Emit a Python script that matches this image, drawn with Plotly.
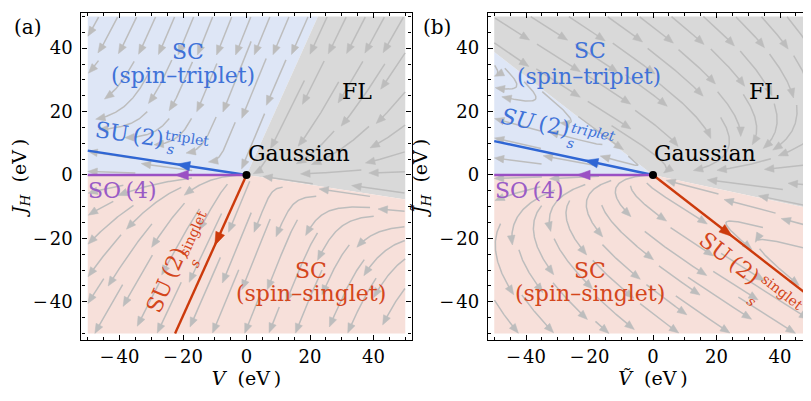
import math
import numpy as np
import plotly.graph_objects as go

# ------------------------------------------------------------------ data
V_RANGE = [-52, 52]
J_RANGE = [-52, 51.1]
TICK_VALS = [-40, -20, 0, 20, 40]
TICK_TEXT = ["\u2212\u200a40", "\u2212\u200a20", "0", "20", "40"]

# ---- panel (a)
A_TRIPLET_V = [0, -50, -50, 22.5]
A_TRIPLET_J = [0, 0, 50, 50]
A_FL_V = [0, 22.5, 50, 50]
A_FL_J = [0, 50, 50, -7.7]
A_SINGLET_V = [0, 50, 50, -50, -50]
A_SINGLET_J = [0, -7.7, -50, -50, 0]
A_TRIP_LINE_V = [0, -50]
A_TRIP_LINE_J = [0, 7.7]
A_SO4_LINE_V = [0, -50]
A_SO4_LINE_J = [0, 0]
A_SING_LINE_V = [0, -22.5]
A_SING_LINE_J = [0, -50]
A_ARROW_TIP_V = [-22.0, -22.5, -10.0]      # triplet, SO(4), singlet arrow tips
A_BETA = [-1.0, -1.1, 2.6]                # a1, a2, k of the quadratic flow

# ---- panel (b)
B_TRIPLET_V = [0, -50, -50]
B_TRIPLET_J = [0, 0, 38.8]
B_FL_V = [0, -50, -50, 50, 50]
B_FL_J = [0, 38.8, 50, 50, -10.7]
B_SINGLET_V = [0, 50, 50, -50, -50]
B_SINGLET_J = [0, -10.7, -50, -50, 0]
B_TRIP_LINE_V = [0, -50]
B_TRIP_LINE_J = [0, 10.7]
B_SO4_LINE_V = [0, -50]
B_SO4_LINE_J = [0, 0]
B_SING_LINE_V = [0, 50]
B_SING_LINE_J = [0, -38.8]
B_ARROW_TIP_V = [-21.5, -24.0, 25.0]
B_BETA = [-1.0, 0.74, -3.4]

# ------------------------------------------------------------------ colours
C_BLUE_FILL = "#dee6f6"
C_GRAY_FILL = "#d9d9d9"
C_RED_FILL = "#f7e0da"
C_STREAM = "#bdbdbd"
C_BLUE = "#2f66d4"
C_PURPLE = "#9a50c4"
C_RED = "#cc3a0c"
C_BLUE_TXT = "#3f72d8"
C_RED_TXT = "#d4461c"
C_PURPLE_TXT = "#9a5bc6"
FONT = "DejaVu Serif"


def coeffs(beta, m2, m3):
    a1, a2, k = beta
    return (a1, a2, -k, 0.0, a1 + k * m2 * m3, a2 - k * (m2 + m3))


def unit_dir(x, y, c):
    a1, a2, a3, b1, b2, b3 = c
    f = a1 * x * x + a2 * x * y + a3 * y * y
    g = b1 * x * x + b2 * x * y + b3 * y * y
    n = math.hypot(f, g)
    if n < 1e-12:
        return None
    return f / n, g / n


def streamlines(c, dsep=5.6, dtest=2.4, step=0.3, half=12.0, lim=50.0):
    grid = {}

    def near(x, y, d):
        cx, cy = int(math.floor(x / dsep)), int(math.floor(y / dsep))
        for i in (cx - 1, cx, cx + 1):
            for j in (cy - 1, cy, cy + 1):
                for (px, py) in grid.get((i, j), ()):
                    if (px - x) ** 2 + (py - y) ** 2 < d * d:
                        return True
        return False

    def trace(x, y, sgn):
        pts = []
        L = 0.0
        while L < half:
            d1 = unit_dir(x, y, c)
            if d1 is None:
                break
            mx, my = x + sgn * d1[0] * step / 2, y + sgn * d1[1] * step / 2
            d2 = unit_dir(mx, my, c)
            if d2 is None:
                break
            nx, ny = x + sgn * d2[0] * step, y + sgn * d2[1] * step
            if abs(nx) > lim or abs(ny) > lim or math.hypot(nx, ny) < 2.0:
                break
            if near(nx, ny, dtest):
                break
            x, y = nx, ny
            pts.append((x, y))
            L += step
        return pts

    lines = []
    seeds = np.arange(-49.0, 49.1, 2.0)
    for sy in seeds[::-1]:
        for sx in seeds:
            if math.hypot(sx, sy) < 3 or near(sx, sy, dsep):
                continue
            fw = trace(sx, sy, 1)
            bw = trace(sx, sy, -1)
            pts = bw[::-1] + [(sx, sy)] + fw
            if len(pts) < 14 or len(fw) < 4:
                continue
            lines.append(pts)
            for (px, py) in pts:
                key = (int(math.floor(px / dsep)), int(math.floor(py / dsep)))
                grid.setdefault(key, []).append((px, py))
    return lines


def arrow_tri(tx, ty, ux, uy, length, width):
    n = math.hypot(ux, uy)
    ux, uy = ux / n, uy / n
    bx, by = tx - ux * length, ty - uy * length
    px, py = -uy * width / 2, ux * width / 2
    return [tx, bx + px, bx - px, tx], [ty, by + py, by - py, ty]


fig = go.Figure()


def add_panel(xr, yr, regions, lines_def, tips, beta):
    for (vx, vy, col) in regions:
        fig.add_trace(go.Scatter(x=vx + [vx[0]], y=vy + [vy[0]], fill="toself", fillcolor=col,
                                 mode="none", xaxis=xr, yaxis=yr, hoverinfo="skip", showlegend=False))
    trip, so4, sing = lines_def
    m2 = trip[1][1] / trip[0][1]
    m3 = sing[1][1] / sing[0][1]
    c = coeffs(beta, m2, m3)
    sl = streamlines(c)
    lx, ly, ax_, ay_ = [], [], [], []
    for pts in sl:
        xs = [p[0] for p in pts]
        ys = [p[1] for p in pts]
        (x1, y1), (x0, y0) = pts[-1], pts[-3]
        tx, ty = arrow_tri(x1, y1, x1 - x0, y1 - y0, 3.0, 2.4)
        lx += xs[:-4] + [None]
        ly += ys[:-4] + [None]
        ax_ += tx + [None]
        ay_ += ty + [None]
    fig.add_trace(go.Scatter(x=lx, y=ly, mode="lines", line=dict(color=C_STREAM, width=1.5),
                             xaxis=xr, yaxis=yr, hoverinfo="skip", showlegend=False))
    fig.add_trace(go.Scatter(x=ax_, y=ay_, mode="lines", fill="toself", fillcolor=C_STREAM,
                             line=dict(color=C_STREAM, width=0.5),
                             xaxis=xr, yaxis=yr, hoverinfo="skip", showlegend=False))
    for (ln, col), tip in zip(((trip, C_BLUE), (so4, C_PURPLE), (sing, C_RED)), tips):
        fig.add_trace(go.Scatter(x=ln[0], y=ln[1], mode="lines", line=dict(color=col, width=2.4),
                                 xaxis=xr, yaxis=yr, hoverinfo="skip", showlegend=False))
        slope = ln[1][1] / ln[0][1]
        tx, ty = tip, slope * tip
        ax2, ay2 = arrow_tri(tx, ty, ln[0][1], ln[1][1], 4.2, 3.0)
        fig.add_trace(go.Scatter(x=ax2, y=ay2, mode="lines", fill="toself", fillcolor=col,
                                 line=dict(color=col, width=0.5),
                                 xaxis=xr, yaxis=yr, hoverinfo="skip", showlegend=False))
    fig.add_trace(go.Scatter(x=[0], y=[0], mode="markers", marker=dict(color="black", size=8),
                             xaxis=xr, yaxis=yr, hoverinfo="skip", showlegend=False))


add_panel("x", "y",
          [(A_TRIPLET_V, A_TRIPLET_J, C_BLUE_FILL), (A_FL_V, A_FL_J, C_GRAY_FILL),
           (A_SINGLET_V, A_SINGLET_J, C_RED_FILL)],
          ((A_TRIP_LINE_V, A_TRIP_LINE_J), (A_SO4_LINE_V, A_SO4_LINE_J), (A_SING_LINE_V, A_SING_LINE_J)),
          A_ARROW_TIP_V, A_BETA)
add_panel("x2", "y2",
          [(B_TRIPLET_V, B_TRIPLET_J, C_BLUE_FILL), (B_FL_V, B_FL_J, C_GRAY_FILL),
           (B_SINGLET_V, B_SINGLET_J, C_RED_FILL)],
          ((B_TRIP_LINE_V, B_TRIP_LINE_J), (B_SO4_LINE_V, B_SO4_LINE_J), (B_SING_LINE_V, B_SING_LINE_J)),
          B_ARROW_TIP_V, B_BETA)

# ------------------------------------------------------------------ labels
anns = []
LBL = 22
SUP = 14


def ann(text, x, y, ref, size, color, angle=0):
    anns.append(dict(text=text, x=x, y=y, xref="x" + ref, yref="y" + ref, showarrow=False,
                     font=dict(size=size, color=color, family=FONT), textangle=angle,
                     xanchor="center", yanchor="middle"))


# panel (a)
ann("SC", -18.4, 39.0, "", LBL, C_BLUE_TXT)
ann("(spin\u2013triplet)", -20.0, 31.3, "", LBL, C_BLUE_TXT)
ann("FL", 34.8, 26.2, "", LBL, "black")
ann("Gaussian", 16.6, 6.9, "", LBL, "black")
ann("SO\u2009(4)", -38.9, -5.0, "", LBL, C_PURPLE_TXT)
ann("SC", 20.3, -30.1, "", LBL, C_RED_TXT)
ann("(spin\u2013singlet)", 20.2, -37.5, "", LBL, C_RED_TXT)
ann("SU\u2009(2)", -36.9, 12.9, "", LBL, C_BLUE_TXT, 8.6)
ann("triplet", -18.5, 11.7, "", SUP, C_BLUE_TXT, 8.6)
ann("<i>s</i>", -24.0, 8.2, "", SUP, C_BLUE_TXT, 8.6)
ann("SU\u2009(2)", -25.3, -33.2, "", LBL, C_RED_TXT, -66)
ann("singlet", -17.0, -18.6, "", SUP, C_RED_TXT, -66)
ann("<i>s</i>", -16.3, -27.8, "", SUP, C_RED_TXT, -66)

# panel (b)
ann("SC", -19.7, 39.4, "2", LBL, C_BLUE_TXT)
ann("(spin\u2013triplet)", -20.2, 31.2, "2", LBL, C_BLUE_TXT)
ann("FL", 35.1, 26.2, "2", LBL, "black")
ann("Gaussian", 16.4, 6.9, "2", LBL, "black")
ann("SO\u2009(4)", -38.8, -5.0, "2", LBL, C_PURPLE_TXT)
ann("SC", -19.7, -30.1, "2", LBL, C_RED_TXT)
ann("(spin\u2013singlet)", -19.7, -37.5, "2", LBL, C_RED_TXT)
ann("<i>SU</i>\u2009(2)", -37.0, 16.7, "2", LBL, C_BLUE_TXT, 11.6)
ann("<i>triplet</i>", -18.7, 13.6, "2", SUP, C_BLUE_TXT, 11.6)
ann("<i>s</i>", -26.0, 10.1, "2", SUP, C_BLUE_TXT, 11.6)
ann("SU\u2009(2)", 24.2, -26.2, "2", LBL, C_RED_TXT, 38)
ann("singlet", 40.7, -37.0, "2", SUP, C_RED_TXT, 38)
ann("<i>s</i>", 30.9, -39.8, "2", SUP, C_RED_TXT, 38)

# panel tags
anns.append(dict(text="(a)", x=20 / 811, y=1 - 19 / 401, xref="paper", yref="paper", showarrow=False,
                 font=dict(size=20, family=FONT, color="black"), xanchor="center", yanchor="middle"))
anns.append(dict(text="(b)", x=429 / 811, y=1 - 19 / 401, xref="paper", yref="paper", showarrow=False,
                 font=dict(size=20, family=FONT, color="black"), xanchor="center", yanchor="middle"))

ydom = [1 - 331.8 / 401, 1 - 5 / 401]
axis_common = dict(showline=True, linecolor="black", linewidth=1.3, mirror="allticks", ticks="inside",
                   ticklen=5, tickwidth=1, tickcolor="black", showgrid=False, zeroline=False,
                   tickvals=TICK_VALS, ticktext=TICK_TEXT, tickfont=dict(size=18, family=FONT, color="black"),
                   minor=dict(dtick=5, tick0=0, ticks="inside", ticklen=3, tickwidth=0.8, tickcolor="black",
                              showgrid=False),
                   fixedrange=True)

fig.update_layout(
    width=811, height=401, margin=dict(l=0, r=0, t=0, b=0),
    paper_bgcolor="white", plot_bgcolor="white",
    font=dict(family=FONT, color="black"),
    showlegend=False,
    xaxis=dict(domain=[73.4 / 811, 403.6 / 811], range=V_RANGE, anchor="y", ticklabelstandoff=0,
               title=dict(text="<i>V</i>\u00a0\u00a0(eV\u2009)", font=dict(size=19, family=FONT), standoff=4),
               **axis_common),
    yaxis=dict(domain=ydom, range=J_RANGE, anchor="x", ticklabelstandoff=4,
               title=dict(text="<i>J</i><sub><i>H</i></sub>\u00a0\u00a0(eV\u2009)", font=dict(size=19, family=FONT),
                          standoff=6),
               **axis_common),
    xaxis2=dict(domain=[479.9 / 811, 810.1 / 811], range=V_RANGE, anchor="y2", ticklabelstandoff=0,
                title=dict(text="<i>\u1E7C</i>\u00a0\u00a0(eV\u2009)", font=dict(size=19, family=FONT), standoff=4),
                **axis_common),
    yaxis2=dict(domain=ydom, range=J_RANGE, anchor="x2", ticklabelstandoff=4,
                title=dict(text="<i>J\u0303</i><sub><i>H</i></sub>\u00a0\u00a0(eV\u2009)",
                           font=dict(size=19, family=FONT), standoff=6),
                **axis_common),
    annotations=anns,
)

fig.write_html("out.html")
